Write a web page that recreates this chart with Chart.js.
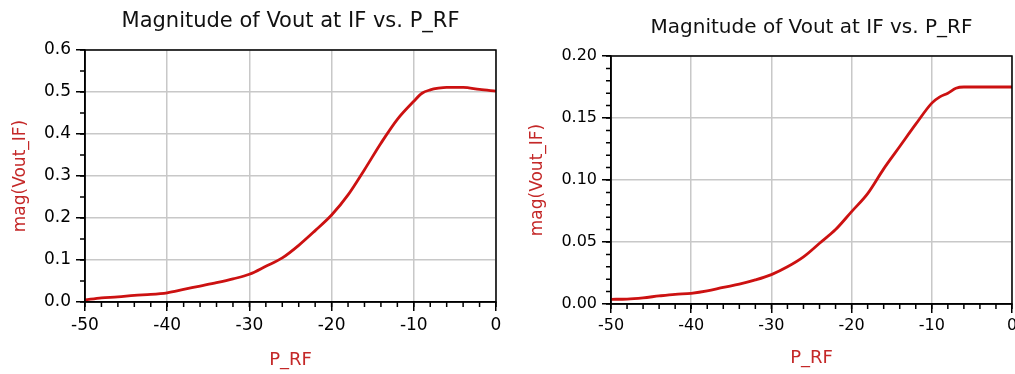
<!DOCTYPE html>
<html>
<head>
<meta charset="utf-8">
<script src="https://cdn.jsdelivr.net/npm/chart.js@4.4.1/dist/chart.umd.min.js"></script>
<style>
  html, body { margin: 0; padding: 0; background: #fff; overflow: hidden; }
  body { width: 1015px; height: 374px; position: relative; }
  .box { position: absolute; top: 0; height: 374px; }
  #left { left: 0; width: 510px; }
  #right { left: 505px; width: 525px; }
</style>
</head>
<body>
<div class="box" id="left"><canvas id="chartLeft"></canvas></div>
<div class="box" id="right"><canvas id="chartRight"></canvas></div>
<script>
// P_RF sweep (dBm) and magnitudes
const pRF = [-50, -48, -46, -44, -42, -40, -38, -36, -34, -32, -30, -28, -26, -24,
    -22, -20, -18, -16, -14, -12, -10, -9, -8, -7, -6, -4, -2, 0];

const magLeft = [0.005, 0.010, 0.012, 0.016, 0.018, 0.022, 0.030, 0.038, 0.046, 0.055,
    0.066, 0.085, 0.105, 0.135, 0.170, 0.207, 0.255, 0.315, 0.378, 0.435,
    0.478, 0.497, 0.505, 0.509, 0.511, 0.511, 0.506, 0.502];

const magRight = [0.0038, 0.0040, 0.0050, 0.0065, 0.0078, 0.0086, 0.0105, 0.0134, 0.0160, 0.0194,
    0.0237, 0.0300, 0.0380, 0.0490, 0.0600, 0.0745, 0.0890, 0.1090, 0.1270, 0.1450,
    0.1620, 0.1670, 0.1700, 0.1740, 0.1750, 0.1750, 0.1750, 0.1750];

const xTicks = [-50, -40, -30, -20, -10, 0];
const yTicksLeft = [0, 0.1, 0.2, 0.3, 0.4, 0.5, 0.6];
const yTicksRight = [0, 0.05, 0.10, 0.15, 0.20];

const titleText = "Magnitude of Vout at IF vs. P_RF";
const FONT = "'DejaVu Sans', sans-serif";
const RED = "#c42828";

/* =========================
   PLUGINS
========================== */
const plotTitle = {
    id: "plotTitle",
    afterDraw(chart, args, opts) {
        const { ctx, chartArea } = chart;
        ctx.save();
        ctx.font = `${opts.size}px ${FONT}`;
        ctx.fillStyle = "#111";
        ctx.textAlign = "center";
        ctx.textBaseline = "middle";
        ctx.fillText(opts.text, (chartArea.left + chartArea.right) / 2 + (opts.dx || 0), opts.y);
        ctx.restore();
    }
};

const minorTicks = {
    id: "minorTicks",
    afterDraw(chart, args, opts) {
        const { ctx, chartArea, scales: { x, y } } = chart;
        ctx.save();
        ctx.strokeStyle = "#000";
        ctx.lineWidth = 1.5;
        ctx.beginPath();
        const nx = Math.round((x.max - x.min) / opts.xStep);
        for (let i = 0; i <= nx; i++) {
            const px = x.getPixelForValue(x.min + i * opts.xStep);
            ctx.moveTo(px, chartArea.bottom);
            ctx.lineTo(px, chartArea.bottom + 5);
        }
        const ny = Math.round((y.max - y.min) / opts.yStep);
        for (let i = 0; i <= ny; i++) {
            const py = y.getPixelForValue(y.min + i * opts.yStep);
            ctx.moveTo(chartArea.left, py);
            ctx.lineTo(chartArea.left - 5, py);
        }
        ctx.stroke();
        // plot frame
        ctx.strokeRect(chartArea.left, chartArea.top, chartArea.width, chartArea.height);
        ctx.restore();
    }
};

/* =========================
   CHART FACTORY
========================== */
function makeChart(id, values, cfg) {
    const ctx = document.getElementById(id).getContext("2d");
    return new Chart(ctx, {
        type: "line",
        data: {
            datasets: [{
                data: pRF.map((p, i) => ({ x: p, y: values[i] })),
                borderColor: "#cc1111",
                borderWidth: 2.8,
                pointRadius: 0,
                cubicInterpolationMode: "monotone",
                fill: false
            }]
        },
        plugins: [plotTitle, minorTicks],
        options: {
            responsive: true,
            maintainAspectRatio: false,
            animation: false,
            layout: { padding: { left: 0, right: cfg.padRight, top: cfg.padTop, bottom: 0 } },
            plugins: {
                legend: { display: false },
                tooltip: { enabled: false },
                plotTitle: { text: titleText, size: cfg.titleSize, y: cfg.titleY },
                minorTicks: { xStep: 2, yStep: cfg.yMinor }
            },
            scales: {
                x: {
                    type: "linear",
                    min: -50, max: 0,
                    afterBuildTicks: s => { s.ticks = xTicks.map(v => ({ value: v })); },
                    afterFit: s => { s.height = cfg.xHeight; s.paddingLeft = 0; s.paddingRight = 0; },
                    grid: { color: "#c8c8c8", lineWidth: 1.5, tickLength: 9, tickColor: "#000", tickWidth: 1.5 },
                    border: { color: "#000", width: 1.5 },
                    ticks: { color: "#000", padding: cfg.xTickPad, maxRotation: 0, font: { family: FONT, size: cfg.tickSize } },
                    title: { display: true, text: "P_RF", color: RED, font: { family: FONT, size: 18 }, padding: { top: 0, bottom: cfg.xTitlePad } }
                },
                y: {
                    type: "linear",
                    min: 0, max: cfg.yMax,
                    afterBuildTicks: s => { s.ticks = cfg.yTicks.map(v => ({ value: v })); },
                    afterFit: s => { s.width = cfg.yWidth; s.paddingTop = 0; s.paddingBottom = 0; },
                    grid: { color: "#c8c8c8", lineWidth: 1.5, tickLength: 9, tickColor: "#000", tickWidth: 1.5 },
                    border: { color: "#000", width: 1.5 },
                    ticks: {
                        color: "#000", padding: 5, font: { family: FONT, size: cfg.tickSize },
                        callback: v => v.toFixed(cfg.digits)
                    },
                    title: { display: true, text: "mag(Vout_IF)", color: RED, font: { family: FONT, size: 17 }, padding: { top: cfg.yTitlePad, bottom: 0 } }
                }
            }
        }
    });
}

makeChart("chartLeft", magLeft, {
    padRight: 14, padTop: 50, xHeight: 72, yWidth: 85,
    yMax: 0.6, yTicks: yTicksLeft, yMinor: 0.05, digits: 1,
    tickSize: 17, xTickPad: 4, xTitlePad: 3, yTitlePad: 10,
    titleSize: 21, titleY: 22
});

makeChart("chartRight", magRight, {
    padRight: 18, padTop: 56, xHeight: 70, yWidth: 106,
    yMax: 0.2, yTicks: yTicksRight, yMinor: 0.01, digits: 2,
    tickSize: 16, xTickPad: 3, xTitlePad: 5, yTitlePad: 22,
    titleSize: 20, titleY: 28
});
</script>
</body>
</html>
